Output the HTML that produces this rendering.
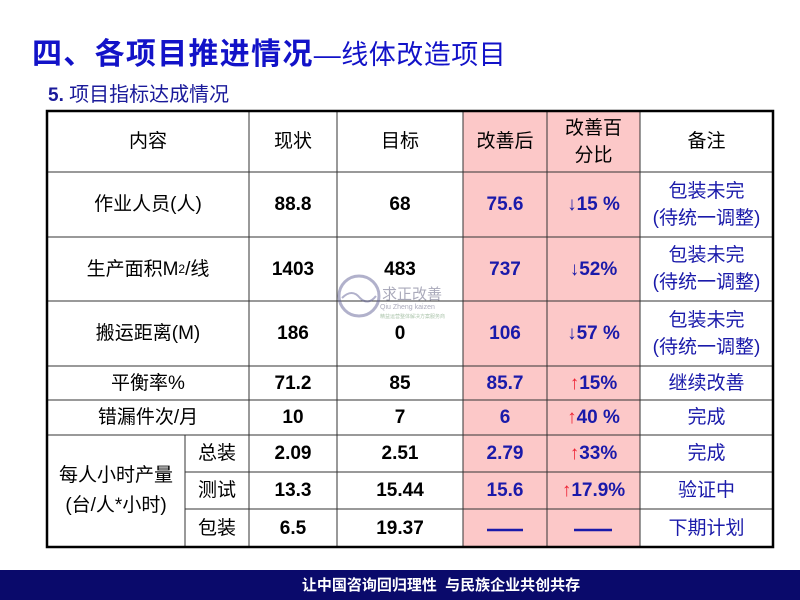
<!DOCTYPE html>
<html><head><meta charset="utf-8"><style>
body{margin:0;width:800px;height:600px;background:#fff;position:relative;overflow:hidden;font-family:"Liberation Sans","Noto Sans CJK SC",sans-serif;}
.t{position:absolute;display:flex;align-items:center;justify-content:center;text-align:center;font-size:19px;line-height:27px;color:#000;}
.b{font-weight:bold;}
.bl{color:#1a1aaa;font-weight:bold;}
.bn{color:#1a1aaa;}
.up{color:#e23;font-weight:normal;}
</style></head><body>
<div style="position:absolute;left:32px;top:29px;font-size:30px;color:#1212c8;font-weight:bold;white-space:nowrap;letter-spacing:1.3px">四、各项目推进情况<span style="font-weight:normal;font-size:27px;letter-spacing:0.5px">—线体改造项目</span></div>
<div style="position:absolute;left:48px;top:78px;font-size:19px;color:#1a1a9a;font-weight:bold;white-space:nowrap">5. <span style="font-weight:normal;font-size:20px">项目指标达成情况</span></div>
<svg width="800" height="600" style="position:absolute;left:0;top:0">
<rect x="463" y="111" width="177" height="436" fill="#fcc8c8"/>
<g stroke="#333" stroke-width="1">
<line x1="47" y1="172" x2="773" y2="172"/><line x1="47" y1="237" x2="773" y2="237"/><line x1="47" y1="301" x2="773" y2="301"/><line x1="47" y1="366" x2="773" y2="366"/><line x1="47" y1="400" x2="773" y2="400"/><line x1="47" y1="435" x2="773" y2="435"/><line x1="185" y1="472" x2="773" y2="472"/><line x1="185" y1="509" x2="773" y2="509"/>
<line x1="249" y1="111" x2="249" y2="435"/><line x1="185" y1="435" x2="185" y2="547"/><line x1="249" y1="435" x2="249" y2="547"/>
<line x1="337" y1="111" x2="337" y2="547"/><line x1="463" y1="111" x2="463" y2="547"/><line x1="547" y1="111" x2="547" y2="547"/><line x1="640" y1="111" x2="640" y2="547"/>
</g>
<rect x="47" y="111" width="726" height="436" fill="none" stroke="#000" stroke-width="2.5"/>
<line x1="487" y1="530" x2="523" y2="530" stroke="#1a1aaa" stroke-width="2.5"/>
<line x1="574" y1="530" x2="612" y2="530" stroke="#1a1aaa" stroke-width="2.5"/>
<g opacity="0.5"><circle cx="359" cy="296" r="20" fill="none" stroke="#669" stroke-width="3"/><path d="M342 298 Q352 288 360 298 Q368 306 376 296" fill="none" stroke="#669" stroke-width="2"/>
<text x="382" y="299" font-size="15" fill="#557" font-family="Noto Sans CJK SC">求正改善</text>
<text x="380" y="309" font-size="7" fill="#557" font-family="Liberation Sans">Qiu Zheng kaizen</text>
<text x="380" y="318" font-size="5" fill="#585">精益运营整体解决方案服务商</text></g>
<rect x="0" y="570" width="800" height="30" fill="#0a0a6b"/>
</svg>
<div class="t" style="left:47px;top:111px;width:202px;height:61px">内容</div>
<div class="t" style="left:249px;top:111px;width:88px;height:61px">现状</div>
<div class="t" style="left:337px;top:111px;width:126px;height:61px">目标</div>
<div class="t" style="left:463px;top:111px;width:84px;height:61px">改善后</div>
<div class="t" style="left:547px;top:111px;width:93px;height:61px">改善百<br>分比</div>
<div class="t" style="left:640px;top:111px;width:133px;height:61px">备注</div>

<div class="t" style="left:47px;top:172px;width:202px;height:65px">作业人员(人)</div>
<div class="t b" style="left:249px;top:172px;width:88px;height:65px">88.8</div>
<div class="t b" style="left:337px;top:172px;width:126px;height:65px">68</div>
<div class="t bl" style="left:463px;top:172px;width:84px;height:65px">75.6</div>
<div class="t bl" style="left:547px;top:172px;width:93px;height:65px"><span style="font-weight:normal">↓</span>15 %</div>
<div class="t bn" style="left:640px;top:172px;width:133px;height:65px">包装未完<br>(待统一调整)</div>

<div class="t" style="left:47px;top:237px;width:202px;height:64px">生产面积M<sup style="font-size:12px;line-height:0">2</sup>/线</div>
<div class="t b" style="left:249px;top:237px;width:88px;height:64px">1403</div>
<div class="t b" style="left:337px;top:237px;width:126px;height:64px">483</div>
<div class="t bl" style="left:463px;top:237px;width:84px;height:64px">737</div>
<div class="t bl" style="left:547px;top:237px;width:93px;height:64px"><span style="font-weight:normal">↓</span>52%</div>
<div class="t bn" style="left:640px;top:237px;width:133px;height:64px">包装未完<br>(待统一调整)</div>

<div class="t" style="left:47px;top:301px;width:202px;height:65px">搬运距离(M)</div>
<div class="t b" style="left:249px;top:301px;width:88px;height:65px">186</div>
<div class="t b" style="left:337px;top:301px;width:126px;height:65px">0</div>
<div class="t bl" style="left:463px;top:301px;width:84px;height:65px">106</div>
<div class="t bl" style="left:547px;top:301px;width:93px;height:65px"><span style="font-weight:normal">↓</span>57 %</div>
<div class="t bn" style="left:640px;top:301px;width:133px;height:65px">包装未完<br>(待统一调整)</div>

<div class="t" style="left:47px;top:366px;width:202px;height:34px">平衡率%</div>
<div class="t b" style="left:249px;top:366px;width:88px;height:34px">71.2</div>
<div class="t b" style="left:337px;top:366px;width:126px;height:34px">85</div>
<div class="t bl" style="left:463px;top:366px;width:84px;height:34px">85.7</div>
<div class="t bl" style="left:547px;top:366px;width:93px;height:34px"><span class="up">↑</span>15%</div>
<div class="t bn" style="left:640px;top:366px;width:133px;height:34px">继续改善</div>

<div class="t" style="left:47px;top:400px;width:202px;height:35px">错漏件次/月</div>
<div class="t b" style="left:249px;top:400px;width:88px;height:35px">10</div>
<div class="t b" style="left:337px;top:400px;width:126px;height:35px">7</div>
<div class="t bl" style="left:463px;top:400px;width:84px;height:35px">6</div>
<div class="t bl" style="left:547px;top:400px;width:93px;height:35px"><span class="up">↑</span>40 %</div>
<div class="t bn" style="left:640px;top:400px;width:133px;height:35px">完成</div>

<div class="t" style="left:47px;top:435px;width:138px;height:112px;line-height:30px">每人小时产量<br>(台/人*小时)</div>
<div class="t" style="left:185px;top:435px;width:64px;height:37px">总装</div>
<div class="t" style="left:185px;top:472px;width:64px;height:37px">测试</div>
<div class="t" style="left:185px;top:509px;width:64px;height:38px">包装</div>
<div class="t b" style="left:249px;top:435px;width:88px;height:37px">2.09</div>
<div class="t b" style="left:249px;top:472px;width:88px;height:37px">13.3</div>
<div class="t b" style="left:249px;top:509px;width:88px;height:38px">6.5</div>
<div class="t b" style="left:337px;top:435px;width:126px;height:37px">2.51</div>
<div class="t b" style="left:337px;top:472px;width:126px;height:37px">15.44</div>
<div class="t b" style="left:337px;top:509px;width:126px;height:38px">19.37</div>
<div class="t bl" style="left:463px;top:435px;width:84px;height:37px">2.79</div>
<div class="t bl" style="left:463px;top:472px;width:84px;height:37px">15.6</div>
<div class="t bl" style="left:547px;top:435px;width:93px;height:37px"><span class="up">↑</span>33%</div>
<div class="t bl" style="left:547px;top:472px;width:93px;height:37px"><span class="up">↑</span>17.9%</div>
<div class="t bn" style="left:640px;top:435px;width:133px;height:37px">完成</div>
<div class="t bn" style="left:640px;top:472px;width:133px;height:37px">验证中</div>
<div class="t bn" style="left:640px;top:509px;width:133px;height:38px">下期计划</div>

<div class="t" style="left:296px;top:570px;width:290px;height:30px;color:#fff;font-size:15px;font-weight:bold;white-space:nowrap">让中国咨询回归理性&nbsp;&nbsp;与民族企业共创共存</div>
</body></html>
